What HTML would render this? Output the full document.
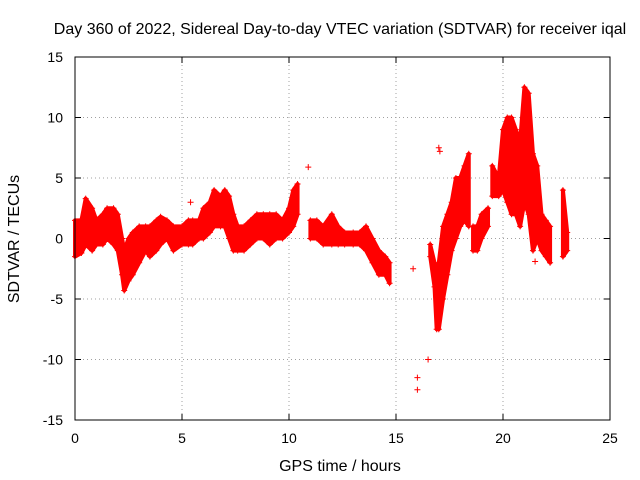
<!DOCTYPE html>
<html><head><meta charset="utf-8"><style>
body{margin:0;background:#fff}
svg{display:block;font-family:"Liberation Sans",sans-serif}
</style></head><body>
<svg id="chart" width="640" height="480">
<text x="340" y="34" font-size="16" text-anchor="middle">Day 360 of 2022, Sidereal Day-to-day VTEC variation (SDTVAR) for receiver iqal</text>
<text x="340" y="471" font-size="16" text-anchor="middle">GPS time / hours</text>
<text transform="translate(19,239) rotate(-90)" font-size="16" text-anchor="middle">SDTVAR / TECUs</text>
<g id="grid"></g><g id="ticks"></g><g id="marks"></g>
<rect x="75" y="57" width="535" height="363" fill="none" stroke="#000" stroke-width="1"/>
</svg>
<script>
const xTicks=[0,5,10,15,20,25];
const yTicks=[-15,-10,-5,0,5,10,15];
const times=[0,0.3,0.5,0.8,1.0,1.3,1.5,1.8,2.0,2.2,2.3,2.5,2.7,3.0,3.3,3.5,3.8,4.0,4.3,4.6,5.0,5.3,5.5,5.8,6.0,6.3,6.5,6.8,7.0,7.2,7.4,7.6,7.9,8.2,8.5,8.8,9.1,9.4,9.7,10.0,10.2,10.4,null,11.0,11.3,11.6,12.0,12.3,12.6,13.0,13.3,13.6,13.9,14.2,14.5,14.7,null,16.6,16.8,16.9,17.0,17.2,17.4,17.6,17.8,18.0,18.2,18.4,null,18.6,18.8,19.0,19.3,null,19.5,19.8,20.0,20.2,20.4,20.6,20.8,21.0,21.2,21.4,21.6,21.8,22.0,22.2,null,22.8,23.0];
const lo=[-1.5,-1.2,-0.5,-1,-0.5,-0.5,0,-0.5,-1,-3,-4.3,-3.5,-3,-2,-1,-1.5,-1,-0.5,0,-1,-0.5,-0.5,-0.5,0,0,0.5,1,1,1,0,-1,-1,-1,-0.5,0,0,-0.5,0,0,0.5,1,2,null,0,0,-0.5,-0.5,-0.5,-0.5,-0.5,-0.5,-1,-2,-3,-3,-3.7,null,-1.5,-4,-7.5,-7.5,-5,-3,-1,0,1,1.5,1,null,-1,-1,0,1,null,3.5,3.5,4,3,2,2,1,3,2,-1,0,-1,-1.5,-2,null,-1.5,-1];
const hi=[1.5,1.5,3.3,2.5,1.5,2,2.5,2.5,2,0,-1,0,0.5,1,1,1,1.5,1.8,1.5,1,1,1.5,1.5,1.5,2.5,3,4,3.5,4,3.5,2,1,1,1.5,2,2,2,2,1.5,2.5,4,4.5,null,1.5,1.5,1,2,1,0.5,0.5,0.5,1,0,-1,-1.5,-2,null,-0.5,-2,-3,-2,1,2,3,5,5,6,7,null,1,1,2,2.5,null,6,5,9,10,10,9,8,12.5,12,7,6,2,1.5,1,null,4,0.5];
const ptT=[5.4,10.9,15.8,16.0,16.0,16.5,17.0,17.05,21.5];
const ptV=[3.0,5.9,-2.5,-11.5,-12.5,-10,7.5,7.2,-1.9];
const X=t=>75+t*21.4, Y=v=>238.5-v*12.1;
const NS='http://www.w3.org/2000/svg';
function mk(tag,attrs,parent){const e=document.createElementNS(NS,tag);for(const k in attrs)e.setAttribute(k,attrs[k]);document.getElementById(parent).appendChild(e);return e;}
xTicks.forEach(t=>{
 if(t>0&&t<25){const g=mk('line',{x1:X(t),x2:X(t),y1:57,y2:420,stroke:'#a0a0a0','stroke-dasharray':'1,3'},'grid');
 
 }
 const l=mk('text',{x:X(t),y:443,'font-size':14,'text-anchor':'middle'},'ticks');l.textContent=t;
 
 
 mk('line',{x1:X(t),x2:X(t),y1:420,y2:414,stroke:'#000'},'ticks');mk('line',{x1:X(t),x2:X(t),y1:57,y2:63,stroke:'#000'},'ticks');
});
yTicks.forEach(v=>{
 if(v>-15&&v<15){const g=mk('line',{x1:75,x2:610,y1:Y(v),y2:Y(v),stroke:'#a0a0a0','stroke-dasharray':'1,3'},'grid');
 
 }
 const l=mk('text',{x:63,y:Y(v)+5,'font-size':14,'text-anchor':'end'},'ticks');l.textContent=v;
 
 
 mk('line',{x1:75,x2:81,y1:Y(v),y2:Y(v),stroke:'#000'},'ticks');mk('line',{x1:610,x2:604,y1:Y(v),y2:Y(v),stroke:'#000'},'ticks');
});
function plus(t,v){const p=mk('path',{d:`M${X(t)-3},${Y(v)}h6M${X(t)},${Y(v)-3}v6`,stroke:'#f00','stroke-width':1,fill:'none'},'marks');
 
 }
let seg=[];
function flush(){if(!seg.length)return;
 const top=seg.map(i=>`${X(times[i])},${Y(hi[i])}`);const bot=seg.slice().reverse().map(i=>`${X(times[i])},${Y(lo[i])}`);
 const a=mk('polygon',{points:top.concat(bot).join(' '),fill:'#f00','fill-opacity':1,stroke:'#f00','stroke-width':4,'stroke-linejoin':'round'},'marks');
 
 
 seg=[];}
times.forEach((t,i)=>{if(t===null){flush();return;}seg.push(i);plus(t,lo[i]);plus(t,hi[i]);});
flush();
ptT.forEach((t,i)=>plus(t,ptV[i]));
</script>
</body></html>
